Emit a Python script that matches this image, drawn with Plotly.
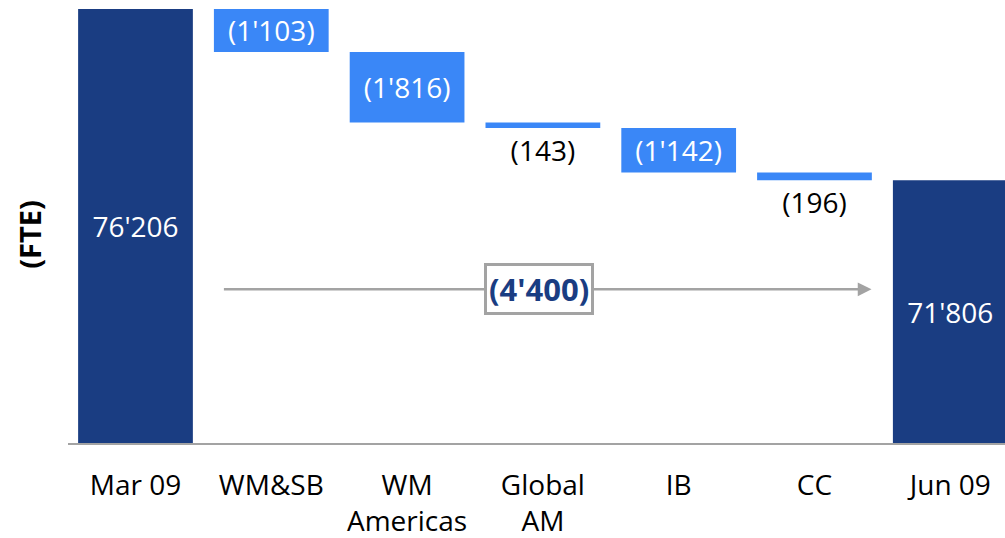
import plotly.graph_objects as go

# ---- data ----
categories = ["Mar 09", "WM&SB", "WM<br>Americas", "Global<br>AM", "IB", "CC", "Jun 09"]
start_value = 76206
changes = [-1103, -1816, -143, -1142, -196]
end_value = 71806
inside_flags = [True, True, True, False, True, False, True]  # label inside bar?

# ---- styling ----
DARK = "#1A3D82"
LIGHT = "#3A87F7"
GRAY = "#A3A3A3"
FONT = "Open Sans"
Y_FLOOR = 65050
Y_TOP = 76206


def fmt(v):
    return f"{abs(v):,}".replace(",", "'")


# build bars from values
bases, heights, colors, texts = [], [], [], []
bases.append(Y_FLOOR)
heights.append(start_value - Y_FLOOR)
colors.append(DARK)
texts.append(fmt(start_value))
running = start_value
for c in changes:
    bases.append(running)
    heights.append(c)
    colors.append(LIGHT)
    texts.append(f"({fmt(c)})")
    running += c
bases.append(Y_FLOOR)
heights.append(end_value - Y_FLOOR)
colors.append(DARK)
texts.append(fmt(end_value))

positions = ["inside" if f else "outside" for f in inside_flags]

fig = go.Figure()
fig.add_trace(go.Bar(
    x=list(range(len(categories))),
    y=heights,
    base=bases,
    marker=dict(color=colors, line=dict(width=0)),
    width=0.845,
    text=texts,
    textposition=positions,
    insidetextanchor="middle",
    textangle=0,
    insidetextfont=dict(color="white", size=28, family=FONT),
    outsidetextfont=dict(color="black", size=28, family=FONT),
    cliponaxis=False,
    hoverinfo="skip",
))

total_change = end_value - start_value
arrow_y = 69000

fig.add_annotation(
    x=5.42, y=arrow_y, ax=0.64, ay=arrow_y,
    xref="x", yref="y", axref="x", ayref="y",
    text="", showarrow=True, arrowhead=2, arrowsize=1.1,
    arrowwidth=2.5, arrowcolor=GRAY,
)
fig.add_annotation(
    x=2.97, y=arrow_y, xref="x", yref="y",
    text=f"<b>({fmt(total_change)})</b>", showarrow=False,
    font=dict(family=FONT, size=31, color=DARK),
    bgcolor="white", bordercolor=GRAY, borderwidth=3, borderpad=2,
)
fig.add_annotation(
    x=-0.0406, y=0.482, xref="paper", yref="paper",
    text="<b>(FTE)</b>", showarrow=False, textangle=-90,
    font=dict(family=FONT, size=29, color="black"),
    xanchor="center", yanchor="middle",
)

fig.update_layout(
    width=1005, height=538,
    margin=dict(l=68, r=0, t=9, b=95),
    paper_bgcolor="white", plot_bgcolor="white",
    showlegend=False,
    uniformtext=dict(minsize=28, mode="show"),
    font=dict(family=FONT, size=28, color="black"),
    xaxis=dict(
        range=[-0.497, 6.403],
        tickmode="array",
        tickvals=list(range(len(categories))),
        ticktext=categories,
        showline=True, linecolor=GRAY, linewidth=2,
        showgrid=False, zeroline=False, ticks="",
        ticklabelstandoff=16,
        automargin=False,
        tickfont=dict(family=FONT, size=28, color="black"),
    ),
    yaxis=dict(
        range=[Y_FLOOR, Y_TOP],
        automargin=False,
        showticklabels=False, showgrid=False, zeroline=False, showline=False,
    ),
)

fig.write_html(
    "out.html",
    config={"displayModeBar": False},
    post_script="document.body.style.margin='0px';document.body.style.overflow='hidden';",
)
